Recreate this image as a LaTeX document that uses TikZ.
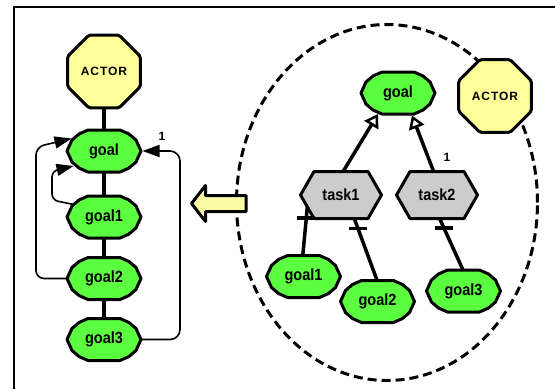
\documentclass[tikz,border=0pt]{standalone}
\usepackage{fontspec}
\setmainfont{Liberation Sans}
\usetikzlibrary{shapes.geometric,arrows.meta,calc}
\definecolor{goalgreen}{RGB}{92,255,64}
\definecolor{actoryellow}{RGB}{255,255,153}
\definecolor{taskgray}{RGB}{204,204,204}
\definecolor{arrowyellow}{RGB}{250,250,165}
\pgfdeclarelayer{back}
\pgfdeclarelayer{conn}
\pgfdeclarelayer{shp}
\pgfsetlayers{back,conn,shp,main}
\newcommand\tallt[1]{\scalebox{1}[1.12]{#1}}
\tikzset{
  lbl/.style={font=\bfseries\fontsize{14.5}{15}\selectfont, text=black, inner sep=0pt},
  goalnode/.style={lbl, ellipse, minimum width=77pt, minimum height=45pt},
  tasknode/.style={lbl, rectangle, minimum width=84pt, minimum height=50pt},
  actornode/.style={regular polygon, regular polygon sides=8, minimum size=79pt, draw=black,
    line width=3pt, fill=actoryellow, inner sep=0pt, rounded corners=2pt,
    font=\bfseries\fontsize{12}{13}\selectfont\addfontfeature{LetterSpace=8}},
  shapeline/.style={draw=black, line width=3pt, line join=round},
  chainconn/.style={line width=4pt},
  thickconn/.style={line width=3.5pt},
  thinconn/.style={line width=1.6pt, rounded corners=8pt},
  filltip/.style={-{Triangle[length=17pt,width=12pt]}},
  opentip/.style={-{Triangle[open,length=13pt,width=16pt,line width=2.5pt,fill=white]}},
  tickbar/.style={line width=3.5pt},
  boundary/.style={ellipse, draw=black, line width=3pt, dash pattern=on 9pt off 5pt,
    minimum width=301pt, minimum height=356pt, inner sep=0pt},
  framest/.style={line width=2pt},
  numlbl/.style={font=\bfseries\fontsize{12}{13}\selectfont, inner sep=0pt},
}
\newcommand\drawgoalpoly[1]{%
  \begin{pgfonlayer}{shp}
  \filldraw[shapeline, fill=goalgreen, shift={(#1.center)}]
    (-37,0) -- (-32,-11) -- (-25,-17) -- (-16,-21) -- (16,-21) -- (25,-17) -- (32,-11)
    -- (37,0) -- (32,11) -- (25,17) -- (16,21) -- (-16,21) -- (-25,17) -- (-32,11) -- cycle;
  \end{pgfonlayer}}
\newcommand\drawtaskpoly[1]{%
  \begin{pgfonlayer}{shp}
  \filldraw[shapeline, fill=taskgray, shift={(#1.center)}]
    (-40.5,0) -- (-27,-23.5) -- (27,-23.5) -- (40.5,0) -- (27,23.5) -- (-27,23.5) -- cycle;
  \end{pgfonlayer}}
\begin{document}
\begin{tikzpicture}[x=1pt,y=-1pt]
\useasboundingbox (0,0) rectangle (555,389);
% frame
\draw[framest] (14,389) -- (14,7) -- (555,7);

% boundary of the right actor
\begin{pgfonlayer}{back}
\node[boundary] (bnd) at (387,202.5) {};
\end{pgfonlayer}

% ---- left: nodes
\node[actornode] (la) at (104,71.5) {ACTOR};
\node[goalnode] (lg) at (104,151) {\tallt{goal}};
\node[goalnode] (lg1) at (104,217) {\tallt{goal1}};
\node[goalnode] (lg2) at (104,278.5) {\tallt{goal2}};
\node[goalnode] (lg3) at (104,339.5) {\tallt{goal3}};
\drawgoalpoly{lg}\drawgoalpoly{lg1}\drawgoalpoly{lg2}\drawgoalpoly{lg3}

% ---- right: nodes
\node[actornode] (ra) at (495,96) {ACTOR};
\node[goalnode] (rg) at (398,93) {\tallt{goal}};
\node[tasknode] (rt1) at (341,195) {\tallt{task1}};
\node[tasknode] (rt2) at (437,195) {\tallt{task2}};
\node[goalnode] (rg1) at (303.5,276.5) {\tallt{goal1}};
\node[goalnode] (rg2) at (377.5,301.5) {\tallt{goal2}};
\node[goalnode] (rg3) at (463.5,291) {\tallt{goal3}};
\drawgoalpoly{rg}\drawgoalpoly{rg1}\drawgoalpoly{rg2}\drawgoalpoly{rg3}
\drawtaskpoly{rt1}\drawtaskpoly{rt2}

% big transformation arrow
\begin{pgfonlayer}{shp}
\filldraw[shapeline, fill=arrowyellow]
  (191.5,203.5) -- (205.5,185.5) -- (205.5,195.5) -- (246,195.5) -- (246,211.5)
  -- (205.5,211.5) -- (205.5,221.5) -- cycle;
\end{pgfonlayer}

% ---- connectors
\begin{pgfonlayer}{conn}
\draw[chainconn] (la.center) -- (lg.center);
\draw[chainconn] (lg.center) -- (lg1.center);
\draw[chainconn] (lg1.center) -- (lg2.center);
\draw[chainconn] (lg2.center) -- (lg3.center);
\draw[thinconn, filltip] (lg2.center) -| ($(lg.center)+(-68,-4)$) -- ($(lg.center)+(-32.5,-12.5)$);
\draw[thinconn, rounded corners=6pt, filltip] ($(lg1.center)+(-28,-12)$) -- ($(lg1.center)+(-52,-17)$)
  -- ($(lg.center)+(-52,20)$) -- ($(lg.center)+(-30.5,15)$);
\draw[thinconn, rounded corners=10pt, filltip] (lg3.center) -- ++(76,0) |- ($(lg.center)+(38.5,0)$);

\draw[thickconn, opentip] ($(rt1.center)+(0,-20)$) -- ($(rg.center)+(-20,21)$);
\draw[thickconn, opentip] ($(rt2.center)+(-2,-20)$) -- ($(rg.center)+(14,22.5)$);
\draw[thickconn] ($(rt1.center)+(-33,5)$) -- ($(rg1.center)+(-1,-18)$) coordinate[pos=0.31] (k1);
\draw[thickconn] ($(rt1.center)+(12,20)$) -- ($(rg2.center)+(0,-20)$) coordinate[pos=0.2] (k2);
\draw[thickconn] ($(rt2.center)+(1,20)$) -- ($(rg3.center)+(0,-20)$) coordinate[pos=0.23] (k3);
\end{pgfonlayer}
\draw[tickbar] ($(k1)+(-9,0)$) -- ($(k1)+(9,0)$);
\draw[tickbar] ($(k2)+(-9,0)$) -- ($(k2)+(9,0)$);
\draw[tickbar] ($(k3)+(-9,0)$) -- ($(k3)+(9,0)$);

% cardinality labels
\node[numlbl] (n1) at (162,136) {1};
\node[numlbl] (n2) at (447,157) {1};
\end{tikzpicture}
\end{document}
